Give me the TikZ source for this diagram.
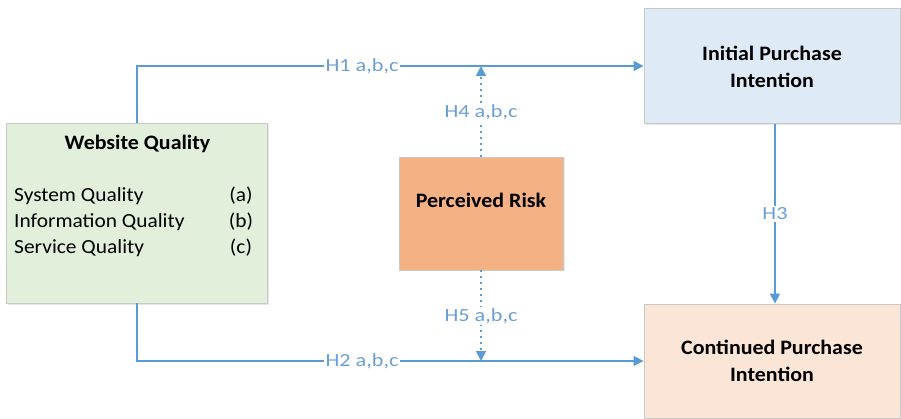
\documentclass[tikz,border=0pt]{standalone}
\usepackage{fontspec}
\setmainfont[FakeStretch=1.07]{Carlito}
\newfontfamily\lblfont[FakeStretch=1.2]{Carlito}
\usetikzlibrary{arrows.meta,shadows}
\definecolor{lineblue}{HTML}{5B9BD5}
\definecolor{lbltext}{HTML}{6C9FD6}
\definecolor{wqfill}{HTML}{E2EFDA}
\definecolor{ipfill}{HTML}{DEEAF6}
\definecolor{cpfill}{HTML}{FBE5D6}
\definecolor{prfill}{HTML}{F4B183}
\definecolor{boxborder}{HTML}{C9C9C9}
\begin{document}
\begin{tikzpicture}[x=1pt,y=-1pt,
  box/.style={draw=boxborder, line width=0.8pt, rectangle, inner sep=0pt,
    drop shadow={shadow xshift=1.5pt, shadow yshift=-1.5pt, opacity=0.2}},
  title/.style={font=\fontsize{20.5}{27}\selectfont\bfseries, align=center, inner sep=0pt},
  item/.style={font=\fontsize{20}{26}\selectfont, inner sep=0pt},
  conn/.style={draw=lineblue, line width=1.5pt, -{Triangle[length=10pt,width=10pt]}},
  dotconn/.style={conn, dash pattern=on 1.8pt off 4.2pt},
  lbl/.style={font=\lblfont\fontsize{18.5}{22}\selectfont, text=lbltext, fill=white, inner sep=1.5pt}
]
\useasboundingbox (0,0) rectangle (901,419);

% boxes
\node[box, fill=wqfill, minimum width=261pt, minimum height=180pt] (wq) at (137,213) {};
\node[box, fill=ipfill, minimum width=256pt, minimum height=115pt] (ip) at (772,66) {};
\node[box, fill=cpfill, minimum width=256pt, minimum height=114pt] (cp) at (772,361) {};
\node[box, fill=prfill, minimum width=164pt, minimum height=113pt] (pr) at (481,213.5) {};

% texts
\node[title] (wqt) at (137.5,144) {Website Quality};
\node[item, anchor=west] (s1) at (14,196) {System Quality};
\node[item, anchor=west] (s2) at (14,222) {Information Quality};
\node[item, anchor=west] (s3) at (14,248) {Service Quality};
\node[item] (a1) at (241,196) {(a)};
\node[item] (a2) at (241,222) {(b)};
\node[item] (a3) at (241,248) {(c)};
\node[title] (ipt) at (772,66.5) {Initial Purchase\\Intention};
\node[title] (cpt) at (772,361) {Continued Purchase\\Intention};
\node[title] (prt) at (481,200) {Perceived Risk};

% connector end points on the H1 / H2 lines
\coordinate (h4end) at (pr.north |- ip.west);
\coordinate (h5end) at (pr.south |- cp.west);

% connectors
\draw[conn] (wq.north) |- (ip.west);
\draw[conn] (wq.south) |- (cp.west);
\draw[conn] ([xshift=3pt]ip.south) -- ([xshift=3pt]cp.north);
\draw[dotconn] (pr.north) -- (h4end);
\draw[dotconn] (pr.south) -- (h5end);

% labels
\node[lbl] (l1) at (362,66) {H1 a,b,c};
\node[lbl] (l2) at (362,361) {H2 a,b,c};
\node[lbl] (l3) at (775,214) {H3};
\node[lbl] (l4) at (481,112) {H4 a,b,c};
\node[lbl] (l5) at (481,316) {H5 a,b,c};
\end{tikzpicture}
\end{document}
